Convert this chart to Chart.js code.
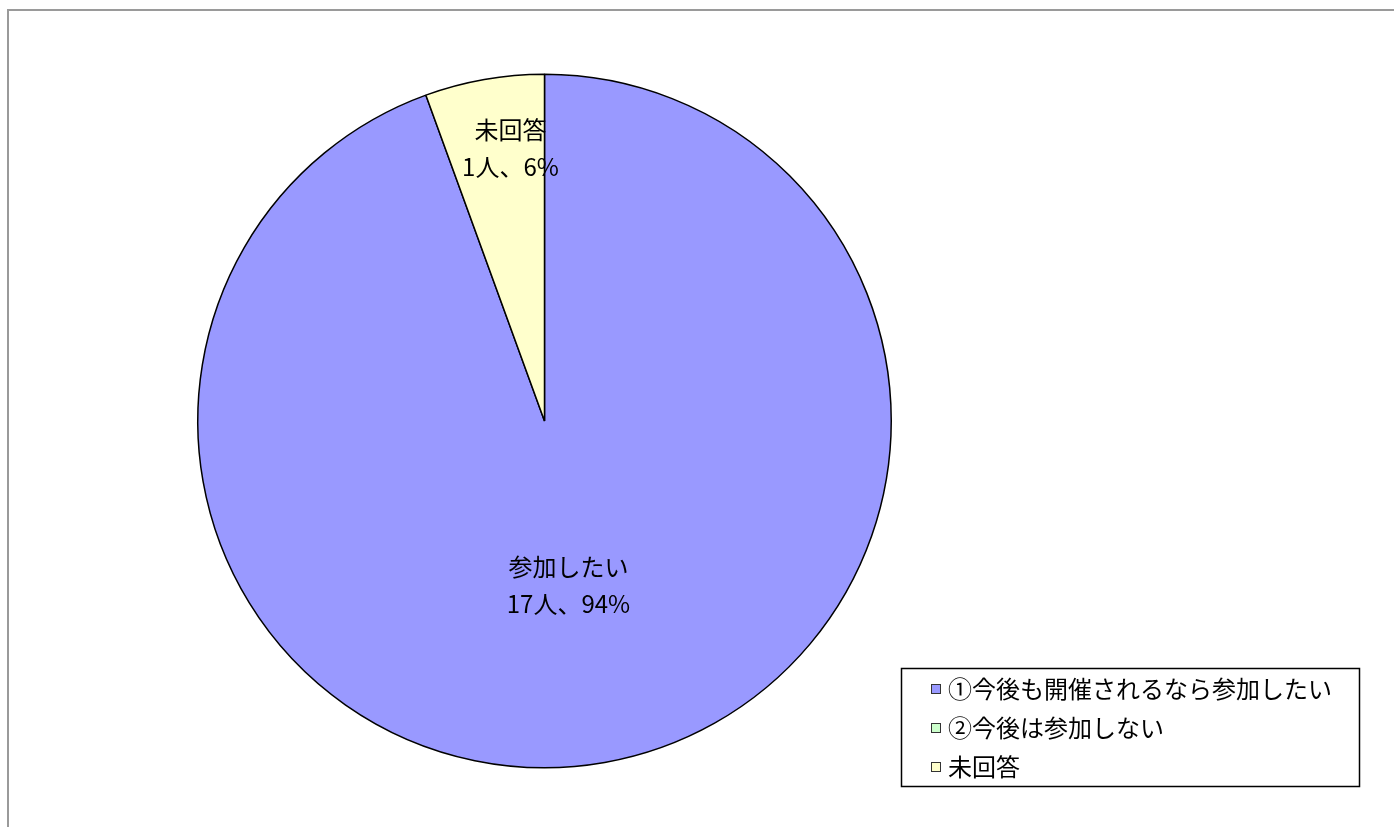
<!DOCTYPE html>
<html>
<head>
<meta charset="utf-8">
<script src="https://cdn.jsdelivr.net/npm/chart.js@4/dist/chart.umd.min.js"></script>
<style>
  html, body { margin: 0; padding: 0; background: #fff; }
  #wrap { width: 1394px; height: 827px; position: relative; }
</style>
</head>
<body>
<div id="wrap"><canvas id="pie"></canvas></div>
<script>
const categories = ['①今後も開催されるなら参加したい', '②今後は参加しない', '未回答'];
const sliceNames = ['参加したい', '参加しない', '未回答'];
const counts = [17, 0, 1];
const percents = ['94%', '0%', '6%'];
const colors = ['#9999FF', '#CCFFCC', '#FFFFCC'];

const FONT = '"Noto Sans CJK JP", "Noto Sans", sans-serif';

// where each slice label sits (fraction of radius, angle nudge in rad)
const labelPlace = [
  { r: 0.48, da: 0.03 },
  { r: 0.6, da: 0 },
  { r: 0.79, da: 0.05 }
];

const framePlugin = {
  id: 'frame',
  beforeDraw(chart) {
    const c = chart.ctx;
    c.save();
    c.strokeStyle = '#9a9a9a';
    c.lineWidth = 2;
    c.strokeRect(8, 10, 1500, 1000);
    c.restore();
  }
};

const sliceLabels = {
  id: 'sliceLabels',
  afterDatasetsDraw(chart) {
    const c = chart.ctx;
    const meta = chart.getDatasetMeta(0);
    c.save();
    c.fillStyle = '#000';
    c.font = '24px ' + FONT;
    c.textAlign = 'center';
    c.textBaseline = 'middle';
    meta.data.forEach((arc, i) => {
      if (!counts[i]) return;
      const p = arc.getProps(['x', 'y', 'startAngle', 'endAngle', 'outerRadius'], true);
      const a = (p.startAngle + p.endAngle) / 2 + labelPlace[i].da;
      const r = p.outerRadius * labelPlace[i].r;
      const x = p.x + Math.cos(a) * r;
      const y = p.y + Math.sin(a) * r;
      c.fillText(sliceNames[i], x, y - 19);
      c.fillText(counts[i] + '人、' + percents[i], x, y + 18);
    });
    c.restore();
  }
};

const boxLegend = {
  id: 'boxLegend',
  afterDraw(chart) {
    const c = chart.ctx;
    const x0 = 901, y0 = 668, w = 458, h = 118;
    c.save();
    c.fillStyle = '#fff';
    c.fillRect(x0, y0, w, h);
    c.strokeStyle = '#000';
    c.lineWidth = 1.5;
    c.strokeRect(x0 + 0.5, y0 + 0.5, w, h);
    c.font = '24px ' + FONT;
    c.textBaseline = 'middle';
    chart.data.labels.forEach((lab, i) => {
      const cy = y0 + 21 + i * 39;
      c.fillStyle = colors[i];
      c.fillRect(931, cy - 5, 10, 10);
      c.strokeStyle = '#333';
      c.lineWidth = 1;
      c.strokeRect(931.5, cy - 4.5, 9, 9);
      c.fillStyle = '#000';
      c.fillText(lab, 948, cy);
    });
    c.restore();
  }
};

new Chart(document.getElementById('pie'), {
  type: 'pie',
  data: {
    labels: categories,
    datasets: [{
      data: counts,
      backgroundColor: colors,
      borderColor: '#000',
      borderWidth: 1.5,
      hoverOffset: 0
    }]
  },
  options: {
    responsive: true,
    maintainAspectRatio: false,
    animation: false,
    layout: { padding: { left: 197, right: 502, top: 73, bottom: 58 } },
    plugins: {
      legend: { display: false },
      tooltip: { enabled: false }
    }
  },
  plugins: [framePlugin, sliceLabels, boxLegend]
});
</script>
</body>
</html>
